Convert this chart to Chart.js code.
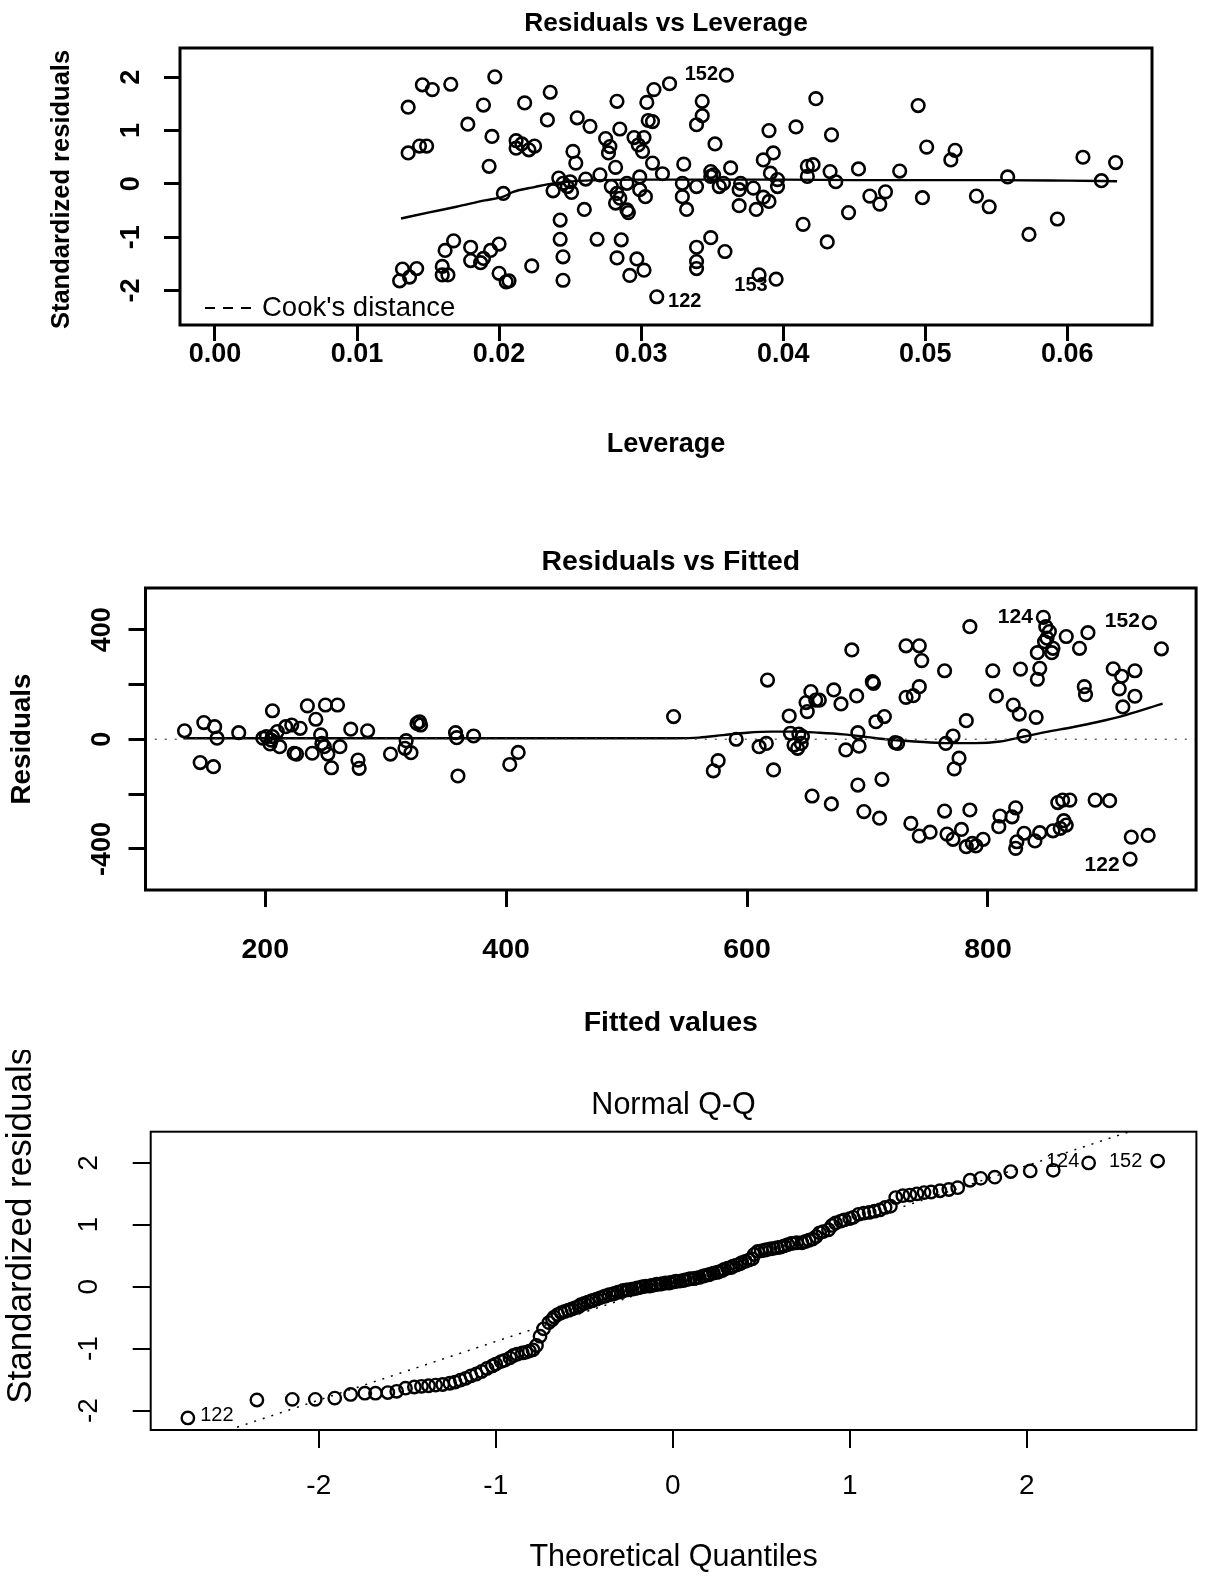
<!DOCTYPE html>
<html>
<head>
<meta charset="utf-8">
<script src="https://cdn.jsdelivr.net/npm/chart.js@4.4.1/dist/chart.umd.min.js"></script>
<style>
html, body { margin: 0; padding: 0; background: #fff; }
#page { position: relative; width: 1205px; height: 1577px; }
canvas { position: absolute; left: 0; }
</style>
</head>
<body>
<div id="page">
   <canvas id="leverage-chart" width="1205" height="490" style="top:0px"></canvas>
   <canvas id="fitted-chart" width="1205" height="560" style="top:490px"></canvas>
   <canvas id="qq-chart" width="1205" height="527" style="top:1050px"></canvas>
</div>
<script>
// ---- Residuals vs Leverage ----
const levX = [
   0.0146, 0.0153, 0.0166, 0.0197, 0.0136, 0.0189, 0.0178, 0.0195, 0.0136, 0.0144,
   0.0149, 0.0193, 0.0203, 0.0168, 0.0162, 0.0180, 0.0194, 0.0200, 0.0132, 0.0142,
   0.0137, 0.0130, 0.0160, 0.0160, 0.0164, 0.0180, 0.0187, 0.0189, 0.0200, 0.0205,
   0.0360, 0.0320, 0.0309, 0.0304, 0.0305, 0.0308, 0.0283, 0.0236, 0.0218, 0.0234,
   0.0255, 0.0264, 0.0285, 0.0275, 0.0278, 0.0295, 0.0302, 0.0298, 0.0301, 0.0277,
   0.0252, 0.0254, 0.0282, 0.0308, 0.0315, 0.0330, 0.0212, 0.0216, 0.0221, 0.0225,
   0.0212, 0.0343, 0.0343, 0.0339, 0.0352, 0.0423, 0.0390, 0.0409, 0.0434, 0.0386,
   0.0393, 0.0363, 0.0349, 0.0351, 0.0417, 0.0421, 0.0433, 0.0391, 0.0242, 0.0238,
   0.0245, 0.0248, 0.0251, 0.0250, 0.0261, 0.0271, 0.0279, 0.0283, 0.0285, 0.0282,
   0.0290, 0.0290, 0.0291, 0.0299, 0.0299, 0.0303, 0.0329, 0.0329, 0.0332, 0.0339,
   0.0349, 0.0355, 0.0358, 0.0370, 0.0369, 0.0369, 0.0379, 0.0381, 0.0386, 0.0390,
   0.0396, 0.0396, 0.0417, 0.0437, 0.0260, 0.0243, 0.0243, 0.0245, 0.0245, 0.0269,
   0.0286, 0.0283, 0.0223, 0.0297, 0.0302, 0.0292, 0.0207, 0.0339, 0.0349, 0.0359,
   0.0339, 0.0339, 0.0311, 0.0383, 0.0395, 0.0414, 0.0431,
   0.0495, 0.0501, 0.0518, 0.0521, 0.0453, 0.0482, 0.0461, 0.0472, 0.0468, 0.0446,
   0.0498, 0.0536, 0.0545, 0.0558, 0.0573, 0.0593, 0.0611, 0.0624, 0.0634
];
const levY = [
   1.86, 1.77, 1.87, 2.01, 1.44, 1.48, 1.12, 0.89, 0.58, 0.71,
   0.71, 0.33, -0.18, -1.07, -1.25, -1.19, -1.25, -1.13, -1.60, -1.59,
   -1.75, -1.82, -1.55, -1.71, -1.71, -1.44, -1.48, -1.40, -1.68, -1.84,
   2.04, 1.88, 1.77, 1.53, 1.19, 1.17, 1.55, 1.72, 1.52, 1.20,
   1.24, 1.08, 1.03, 0.85, 0.70, 0.87, 0.87, 0.73, 0.61, 0.58,
   0.61, 0.39, 0.31, 0.39, 0.19, 0.37, 0.81, 0.75, 0.64, 0.71,
   0.67, 1.55, 1.28, 1.11, 0.75, 1.60, 1.00, 1.07, 0.92, 0.45,
   0.58, 0.30, 0.23, 0.17, 0.33, 0.36, 0.23, 0.20, 0.11, -0.13,
   0.01, -0.05, -0.16, 0.04, 0.09, 0.17, -0.05, -0.18, -0.27, -0.36,
   0.01, -0.49, -0.54, 0.13, -0.11, -0.24, 0.01, -0.24, -0.48, -0.05,
   0.14, -0.05, 0.01, 0.01, -0.11, -0.41, -0.08, -0.48, -0.25, -0.33,
   0.08, -0.05, 0.14, 0.04, -0.48, -0.68, -1.04, -1.37, -1.81, -1.04,
   -1.05, -1.39, -1.54, -1.41, -1.62, -1.72, -1.82, -1.19, -1.01, -1.27,
   -1.46, -1.59, -2.12, -1.71, -1.79, -0.76, -1.09,
   1.47, 0.69, 0.45, 0.63, 0.28, 0.24, -0.23, -0.15, -0.38, -0.54,
   -0.26, -0.23, -0.43, 0.13, -0.95, -0.66, 0.50, 0.06, 0.40
];
const levSmoothX = [0.0131, 0.015, 0.017, 0.019, 0.0203, 0.021, 0.0225, 0.0238, 0.026, 0.030, 0.035, 0.040, 0.045, 0.050, 0.055, 0.060, 0.0635];
const levSmoothY = [-0.65, -0.54, -0.43, -0.31, -0.24, -0.15, -0.06, 0.01, 0.06, 0.08, 0.08, 0.08, 0.07, 0.07, 0.07, 0.06, 0.05];
const levTicksX = [0.00, 0.01, 0.02, 0.03, 0.04, 0.05, 0.06];
const levTicksY = [-2, -1, 0, 1, 2];
const levIds = ['152', '122', '153'];
const levIdX = [0.0360, 0.0311, 0.0383];
const levIdY = [2.04, -2.12, -1.71];

// ---- Residuals vs Fitted ----
const fittedX = [
   133, 149, 158, 160, 146, 157, 178, 198, 201, 205, 204, 206, 206, 212, 210, 217, 222, 229, 224, 226,
   235, 242, 250, 260, 246, 247, 249, 239, 252, 262, 255, 271, 285, 277, 278, 304, 317, 316, 321, 326,
   329, 328, 358, 359, 373, 360, 403, 410,
   539, 591, 576, 572, 610, 616, 617, 622, 635, 636, 639, 642, 645, 646, 643, 653, 649, 657, 660, 650,
   654, 670, 672, 678, 691, 687, 704, 705, 707, 714, 692, 693, 682, 692, 712, 697, 710, 723,
   785, 846, 848, 851, 849, 847, 854, 853, 841, 865, 883, 876, 934, 944, 843, 841, 827, 804, 732, 743,
   745, 764, 743, 738, 732, 807, 821, 826, 840, 782, 771, 765, 725, 830, 776, 772, 904, 911, 922, 909,
   922, 912, 880, 881, 764, 785, 736, 743, 752, 766, 771, 778, 782, 787, 790, 796, 810, 809, 820, 823,
   824, 823, 830, 839, 843, 854, 858, 862, 868, 860, 863, 865, 889, 901, 919, 933, 918
];
const residY = [
   31, 61, 46, 4, -85, -100, 24, 4, 10, -3, -17, 10, 104, -27, 28, 46, 52, 40, -51, -54,
   122, 73, 125, 125, 16, -15, -27, -51, -54, -27, -104, 37, 31, -76, -106, -54, -5, -33, -49, 58,
   52, 64, 24, 6, 12, -134, -92, -48,
   83, 0, -78, -115, -27, -15, 216, -112, 85, 22, -21, -33, -15, 10, 19, 174, 134, 143, 143, 101,
   -207, -236, 180, 129, 158, 326, 210, 204, 64, 83, 24, -25, -39, -167, -146, -264, -288, -12,
   411, 445, 411, 393, 369, 356, 332, 316, 316, 375, 389, 332, 426, 330, 259, 219, 256, 250, 341, 341,
   287, 250, 192, 159, 153, 158, 125, 92, 80, 68, 12, -15, -15, 12, -69, -108, 257, 230, 250, 184,
   157, 118, 192, 163, -262, -258, -307, -353, -339, -346, -365, -329, -392, -380, -389, -365, -280, -319, -283, -250,
   -374, -398, -343, -371, -341, -334, -231, -222, -222, -325, -297, -313, -222, -224, -357, -351, -437
];
const fitSmoothX = [132, 200, 300, 400, 500, 540, 560, 580, 600, 620, 640, 660, 680, 700, 715, 740, 765, 790, 810, 830, 850, 870, 890, 915, 945];
const fitSmoothY = [4, 4, 4, 4, 4, 4, 6, 15, 24, 28, 28, 24, 18, 8, 0, -8, -14, -14, -8, 10, 28, 44, 62, 89, 130];
const fitZeroX = [100, 973];
const fitZeroY = [0, 0];
const fitTicksX = [200, 400, 600, 800];
const fitTicksY = [-400, -200, 0, 200, 400];
const fitLabelsY = [-400, 0, 400];
const fitIds = ['124', '152', '122'];
const fitIdX = [846, 934, 918];
const fitIdY = [445, 426, -437];

// ---- Normal Q-Q ----
const qqX = [
   -2.74, -2.35, -2.15, -2.02, -1.91, -1.82, -1.74, -1.68, -1.61, -1.56,
   -1.51, -1.46, -1.42, -1.38, -1.34, -1.30, -1.26, -1.23, -1.20, -1.17,
   -1.14, -1.11, -1.08, -1.05, -1.02, -1.00, -0.97, -0.95, -0.92, -0.90,
   -0.88, -0.85, -0.83, -0.81, -0.79, -0.77, -0.75, -0.73, -0.70, -0.68,
   -0.67, -0.65, -0.63, -0.61, -0.59, -0.57, -0.55, -0.53, -0.52, -0.50,
   -0.48, -0.46, -0.45, -0.43, -0.41, -0.39, -0.38, -0.36, -0.34, -0.33,
   -0.31, -0.29, -0.28, -0.26, -0.25, -0.23, -0.21, -0.20, -0.18, -0.17,
   -0.15, -0.13, -0.12, -0.10, -0.09, -0.07, -0.06, -0.04, -0.02, -0.01,
   0.01, 0.02, 0.04, 0.06, 0.07, 0.09, 0.10, 0.12, 0.13, 0.15,
   0.17, 0.18, 0.20, 0.21, 0.23, 0.25, 0.26, 0.28, 0.29, 0.31,
   0.33, 0.34, 0.36, 0.38, 0.39, 0.41, 0.43, 0.45, 0.46, 0.48,
   0.50, 0.52, 0.53, 0.55, 0.57, 0.59, 0.61, 0.63, 0.65, 0.67,
   0.68, 0.70, 0.73, 0.75, 0.77, 0.79, 0.81, 0.83, 0.85, 0.88,
   0.90, 0.92, 0.95, 0.97, 1.00, 1.02, 1.05, 1.08, 1.11, 1.14,
   1.17, 1.20, 1.23, 1.26, 1.30, 1.34, 1.38, 1.42, 1.46, 1.51,
   1.56, 1.61, 1.68, 1.74, 1.82, 1.91, 2.02, 2.15, 2.35, 2.74
];
const qqY = [
   -2.12, -1.83, -1.82, -1.82, -1.80, -1.74, -1.72, -1.72, -1.71, -1.69,
   -1.64, -1.62, -1.61, -1.60, -1.59, -1.58, -1.56, -1.54, -1.51, -1.48,
   -1.44, -1.41, -1.37, -1.32, -1.28, -1.25, -1.21, -1.19, -1.15, -1.11,
   -1.09, -1.07, -1.06, -1.04, -1.02, -0.95, -0.80, -0.68, -0.58, -0.53,
   -0.49, -0.45, -0.42, -0.40, -0.38, -0.36, -0.34, -0.32, -0.29, -0.27,
   -0.25, -0.23, -0.22, -0.20, -0.18, -0.16, -0.15, -0.13, -0.12, -0.11,
   -0.09, -0.08, -0.06, -0.05, -0.05, -0.04, -0.03, -0.02, -0.01, 0.00,
   0.01, 0.01, 0.02, 0.03, 0.04, 0.04, 0.05, 0.06, 0.06, 0.07,
   0.08, 0.09, 0.09, 0.10, 0.11, 0.12, 0.13, 0.13, 0.14, 0.15,
   0.17, 0.18, 0.19, 0.20, 0.22, 0.23, 0.24, 0.26, 0.28, 0.30,
   0.31, 0.33, 0.35, 0.37, 0.39, 0.41, 0.43, 0.45, 0.52, 0.57,
   0.58, 0.59, 0.60, 0.61, 0.62, 0.63, 0.64, 0.66, 0.68, 0.70,
   0.70, 0.71, 0.71, 0.73, 0.75, 0.77, 0.81, 0.87, 0.89, 0.92,
   0.99, 1.03, 1.06, 1.08, 1.10, 1.12, 1.17, 1.19, 1.20, 1.22,
   1.24, 1.28, 1.30, 1.44, 1.47, 1.48, 1.50, 1.52, 1.53, 1.55,
   1.57, 1.60, 1.72, 1.75, 1.77, 1.86, 1.87, 1.88, 2.00, 2.03
];
const qqLineX = [-2.51, 2.58];
const qqLineY = [-2.315, 2.504];
const qqTicksX = [-2, -1, 0, 1, 2];
const qqTicksY = [-2, -1, 0, 1, 2];
const qqIds = ['122', '124', '152'];
const qqIdX = [-2.74, 2.35, 2.74];
const qqIdY = [-2.12, 2.00, 2.03];

const FONT = '"Liberation Sans", Arial, Helvetica, sans-serif';

function toPoints(xs, ys) {
   return xs.map((x, i) => ({ x: x, y: ys[i] }));
}

function rotatedText(ctx, text, x, y) {
   ctx.save();
   ctx.translate(x, y);
   ctx.rotate(-Math.PI / 2);
   ctx.fillText(text, 0, 0);
   ctx.restore();
}

// box, titles, rotated y labels, point ids (R base graphics look)
const rFrame = {
   id: 'rFrame',
   afterDatasetsDraw(chart, args, o) {
      const { ctx, chartArea: a, scales } = chart;
      const midX = (a.left + a.right) / 2;
      const midY = (a.top + a.bottom) / 2;
      ctx.save();
      ctx.setLineDash([]);
      ctx.strokeStyle = '#000';
      ctx.lineWidth = o.boxWidth;
      ctx.strokeRect(a.left, a.top, a.right - a.left, a.bottom - a.top);

      ctx.fillStyle = '#000';
      ctx.textAlign = 'center';
      ctx.textBaseline = 'middle';
      ctx.font = o.titleFont;
      ctx.fillText(o.title, midX, a.top - o.titleGap);
      ctx.font = o.axisFont;
      ctx.fillText(o.xTitle, midX, a.bottom + o.xTitleGap);
      ctx.font = o.yTitleFont || o.axisFont;
      rotatedText(ctx, o.yTitle, a.left - o.yTitleGap, midY + (o.yTitleDy || 0));

      ctx.font = o.tickFont;
      for (const v of o.yLabels) {
         rotatedText(ctx, String(v), a.left - o.yTickGap, scales.y.getPixelForValue(v));
      }

      ctx.font = o.idFont;
      o.ids.forEach((id, i) => {
         const px = scales.x.getPixelForValue(o.idX[i]) + o.idOffset[i][0];
         const py = scales.y.getPixelForValue(o.idY[i]) + o.idOffset[i][1];
         ctx.fillText(id, px, py);
      });

      if (o.legend) {
         const ly = a.bottom - o.legend.dy;
         ctx.lineWidth = 2;
         ctx.setLineDash([10, 8]);
         ctx.beginPath();
         ctx.moveTo(a.left + o.legend.x0, ly);
         ctx.lineTo(a.left + o.legend.x1, ly);
         ctx.stroke();
         ctx.setLineDash([]);
         ctx.font = o.legend.font;
         ctx.textAlign = 'left';
         ctx.fillText(o.legend.text, a.left + o.legend.tx, ly);
      }
      ctx.restore();
   }
};

function makePlot(canvasId, p) {
   const tickFont = { family: FONT, size: p.tickSize, weight: p.weight, lineHeight: 1 };
   const below = p.area.bottom;
   return new Chart(document.getElementById(canvasId), {
      type: 'scatter',
      data: { datasets: p.datasets },
      options: {
         responsive: false,
         animation: false,
         devicePixelRatio: 1,
         events: [],
         layout: { padding: { left: p.area.left, top: p.area.top, right: p.area.right, bottom: 0 } },
         plugins: {
            legend: { display: false },
            tooltip: { enabled: false },
            rFrame: p.frame
         },
         scales: {
            x: {
               type: 'linear',
               min: p.xMin,
               max: p.xMax,
               afterBuildTicks: s => { s.ticks = p.xTicks.map(v => ({ value: v })); },
               afterFit: s => { s.height = below; },
               border: { display: false },
               grid: { drawOnChartArea: false, drawTicks: true, tickLength: p.tickLength, lineWidth: p.tickWidth, color: '#000' },
               ticks: { color: '#000', font: tickFont, padding: p.xTickPad, maxRotation: 0, autoSkip: false, callback: p.xFormat }
            },
            y: {
               type: 'linear',
               min: p.yMin,
               max: p.yMax,
               afterBuildTicks: s => { s.ticks = p.yTicks.map(v => ({ value: v })); },
               afterFit: s => { s.width = 0; },
               border: { display: false },
               grid: { drawOnChartArea: false, drawTicks: true, tickLength: p.tickLength, lineWidth: p.tickWidth, color: '#000' },
               ticks: { display: false }
            }
         }
      },
      plugins: [rFrame]
   });
}

const bold = (s) => `bold ${s}px ${FONT}`;
const plain = (s) => `${s}px ${FONT}`;

makePlot('leverage-chart', {
   area: { left: 180, top: 48, right: 53, bottom: 165 },
   xMin: -0.00246, xMax: 0.06596, yMin: -2.65, yMax: 2.551,
   xTicks: levTicksX, yTicks: levTicksY,
   xFormat: v => v.toFixed(2),
   tickSize: 27, weight: 'bold', tickLength: 16, tickWidth: 3, xTickPad: 0,
   datasets: [
      { data: toPoints(levX, levY), pointRadius: 6.3, pointBorderWidth: 2.6, pointBorderColor: '#000', pointBackgroundColor: 'rgba(0,0,0,0)' },
      { type: 'line', data: toPoints(levSmoothX, levSmoothY), showLine: true, borderColor: '#000', borderWidth: 2.4, pointRadius: 0, cubicInterpolationMode: 'monotone' }
   ],
   frame: {
      boxWidth: 3,
      title: 'Residuals vs Leverage', titleFont: bold(26.3), titleGap: 24,
      xTitle: 'Leverage', yTitle: 'Standardized residuals', axisFont: bold(27), xTitleGap: 120, yTitleGap: 118,
      yTitleFont: bold(25.5), yTitleDy: 3,
      tickFont: bold(27), yLabels: levTicksY, yTickGap: 48,
      ids: levIds, idX: levIdX, idY: levIdY, idOffset: [[-25, -1], [28, 5], [-8, 11]], idFont: bold(20),
      legend: { text: "Cook's distance", font: plain(27.5), x0: 25, x1: 72, tx: 82, dy: 17 }
   }
});

makePlot('fitted-chart', {
   area: { left: 145.5, top: 98, right: 5, bottom: 160 },
   xMin: 100.6, xMax: 972.8, yMin: -550, yMax: 552,
   xTicks: fitTicksX, yTicks: fitTicksY,
   xFormat: v => String(v),
   tickSize: 28.5, weight: 'bold', tickLength: 17, tickWidth: 3, xTickPad: 29,
   datasets: [
      { data: toPoints(fittedX, residY), pointRadius: 6.3, pointBorderWidth: 2.6, pointBorderColor: '#000', pointBackgroundColor: 'rgba(0,0,0,0)' },
      { type: 'line', data: toPoints(fitZeroX, fitZeroY), showLine: true, borderColor: '#666', borderWidth: 1.5, borderDash: [2, 8], pointRadius: 0 },
      { type: 'line', data: toPoints(fitSmoothX, fitSmoothY), showLine: true, borderColor: '#000', borderWidth: 2.4, pointRadius: 0, cubicInterpolationMode: 'monotone' }
   ],
   frame: {
      boxWidth: 3,
      title: 'Residuals vs Fitted', titleFont: bold(28.4), titleGap: 26,
      xTitle: 'Fitted values', yTitle: 'Residuals', axisFont: bold(28.5), xTitleGap: 133, yTitleGap: 123,
      yTitleFont: bold(27.7),
      tickFont: bold(27), yLabels: fitLabelsY, yTickGap: 43,
      ids: fitIds, idX: fitIdX, idY: fitIdY, idOffset: [[-28, 0], [-27, -1], [-28, 6]], idFont: bold(21)
   }
});

makePlot('qq-chart', {
   area: { left: 150.7, top: 81.7, right: 8.3, bottom: 147 },
   xMin: -2.950, xMax: 2.959, yMin: -2.315, yMax: 2.504,
   xTicks: qqTicksX, yTicks: qqTicksY,
   xFormat: v => String(v),
   tickSize: 28, weight: 'normal', tickLength: 18, tickWidth: 2, xTickPad: 24,
   datasets: [
      { data: toPoints(qqX, qqY), pointRadius: 6.2, pointBorderWidth: 2.4, pointBorderColor: '#000', pointBackgroundColor: 'rgba(0,0,0,0)' },
      { type: 'line', data: toPoints(qqLineX, qqLineY), showLine: true, borderColor: '#000', borderWidth: 1.5, borderDash: [2, 7], pointRadius: 0 }
   ],
   frame: {
      boxWidth: 2,
      title: 'Normal Q-Q', titleFont: plain(30.5), titleGap: 26,
      xTitle: 'Theoretical Quantiles', yTitle: 'Standardized residuals', axisFont: plain(30.5), xTitleGap: 128, yTitleGap: 129,
      yTitleFont: plain(35), yTitleDy: -55,
      tickFont: plain(28), yLabels: qqTicksY, yTickGap: 61,
      ids: qqIds, idX: qqIdX, idY: qqIdY, idOffset: [[29, -2], [-26, -1], [-32, 0]], idFont: plain(20)
   }
});
</script>
</body>
</html>
